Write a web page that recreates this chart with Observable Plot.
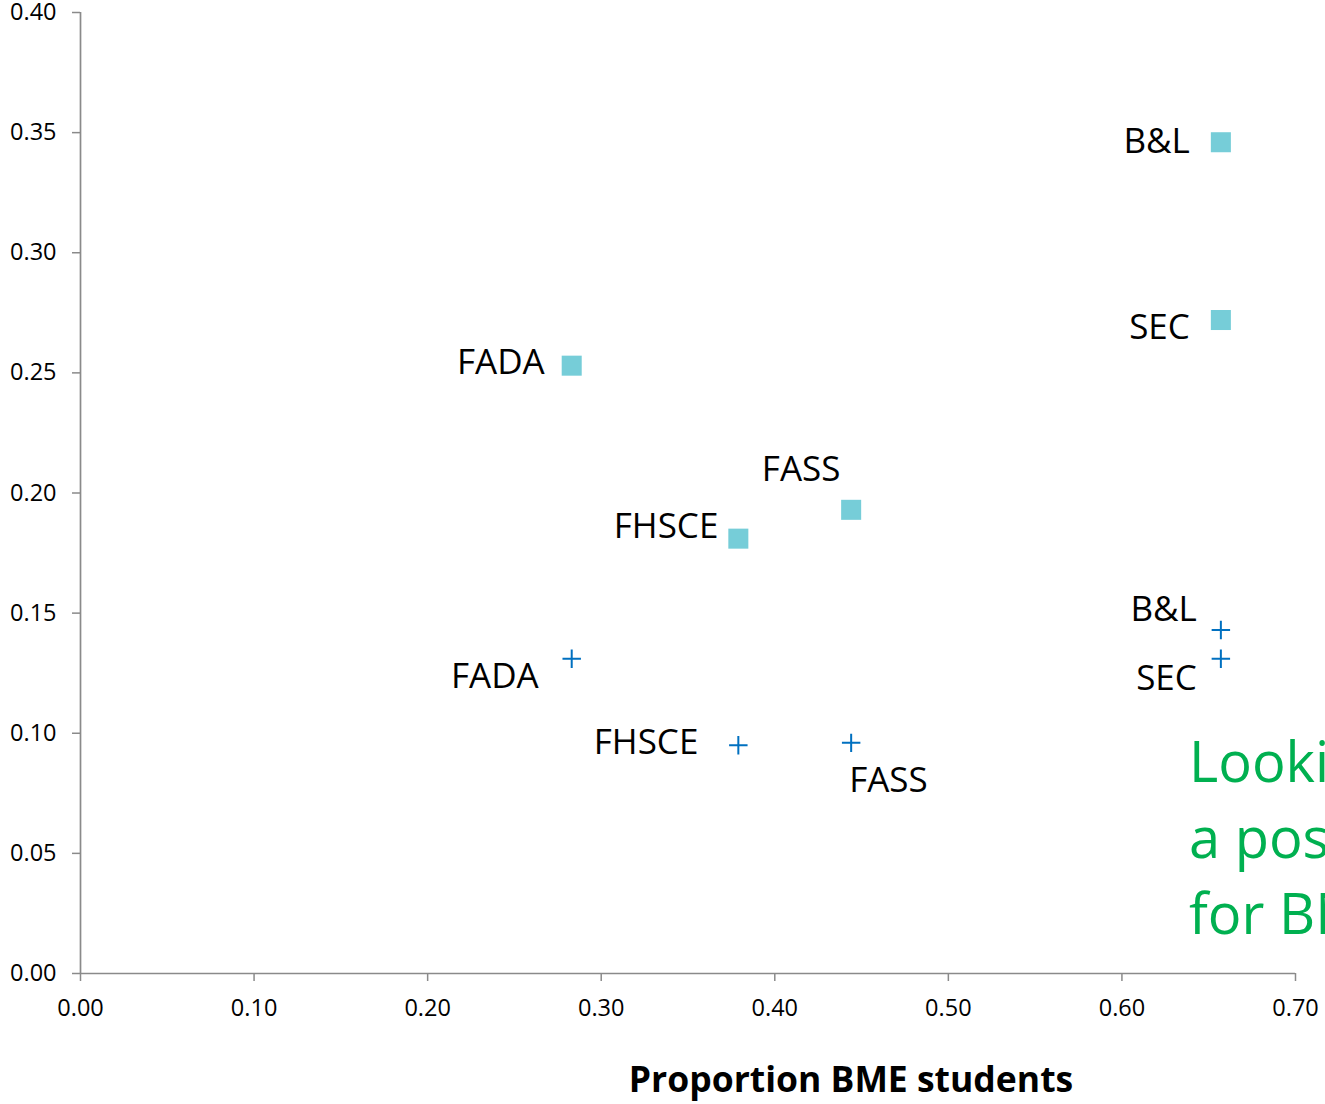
<!DOCTYPE html>
<html><head><meta charset="utf-8">
<script src="https://cdn.jsdelivr.net/npm/d3@7"></script>
<script src="https://cdn.jsdelivr.net/npm/@observablehq/plot@0.6"></script>
<style>
html,body{margin:0;padding:0;background:#fff;overflow:hidden;}
#wrap{position:relative;width:1325px;height:1104px;overflow:hidden;font-family:"Open Sans",sans-serif;}
#chart svg{display:block;overflow:visible;}
#xtitle{position:absolute;left:377px;width:948px;top:1048px;text-align:center;font-weight:bold;font-size:35.5px;line-height:60px;color:#000;}
#note{position:absolute;left:1189px;top:722px;font-size:56px;line-height:76px;color:#00B050;white-space:nowrap;}
</style></head>
<body><div id="wrap"><div id="chart"></div><div id="xtitle"></div><div id="note"></div></div>
<script>
// ---- data ----
const faculties = ["B&L", "SEC", "FADA", "FASS", "FHSCE"];
const bmeProportion = [0.657, 0.657, 0.283, 0.444, 0.379];
const squareSeries = [0.346, 0.272, 0.253, 0.193, 0.181];
const crossSeries = [0.143, 0.131, 0.131, 0.096, 0.095];
const xTicks = [0, 0.1, 0.2, 0.3, 0.4, 0.5, 0.6, 0.7];
const yTicks = [0, 0.05, 0.1, 0.15, 0.2, 0.25, 0.3, 0.35, 0.4];
const xTitle = "Proportion BME students";
const noteLines = ["Looking at", "a positive", "for BME"];

// ---- label placement (styling) ----
const squareLabelPlacement = {
  "B&L":   {anchor: "end", dx: -31, dy: 0},
  "SEC":   {anchor: "end", dx: -31, dy: 8},
  "FADA":  {anchor: "end", dx: -27, dy: -3},
  "FHSCE": {anchor: "end", dx: -20, dy: -12},
  "FASS":  {anchor: "middle", dx: -50, dy: -40}
};
const crossLabelPlacement = {
  "B&L":   {anchor: "end", dx: -24, dy: -20},
  "SEC":   {anchor: "end", dx: -24, dy: 20},
  "FADA":  {anchor: "end", dx: -33, dy: 18},
  "FHSCE": {anchor: "end", dx: -40, dy: -2},
  "FASS":  {anchor: "start", dx: -2, dy: 38}
};

const squares = faculties.map((f, i) => ({faculty: f, bme: bmeProportion[i], value: squareSeries[i]}));
const crosses = faculties.map((f, i) => ({faculty: f, bme: bmeProportion[i], value: crossSeries[i]}));

function labelMarks(rows, placement) {
  return rows.map(r => {
    const p = placement[r.faculty];
    return Plot.text([r], {x: "bme", y: "value", text: "faculty", textAnchor: p.anchor,
      dx: p.dx, dy: p.dy, fontSize: 35, fill: "#000"});
  });
}

const axisGray = "#8a8a8a";
const plot = Plot.plot({
  width: 1325, height: 1040,
  marginTop: 12, marginLeft: 80, marginRight: 30, marginBottom: 67,
  x: {domain: [0, 0.7]},
  y: {domain: [0, 0.4]},
  style: {fontFamily: "'Open Sans', sans-serif", background: "#fff", color: "#000", overflow: "visible"},
  marks: [
    Plot.axisY(yTicks, {tickSize: 8, tickPadding: 16, tickFormat: d3.format(".2f"), fontSize: 23.5,
      stroke: axisGray, strokeWidth: 1.5, fill: "#000", label: null}),
    Plot.axisX(xTicks, {tickSize: 8, tickPadding: 18, tickFormat: d3.format(".2f"), fontSize: 23.5,
      stroke: axisGray, strokeWidth: 1.5, fill: "#000", label: null}),
    Plot.ruleX([0], {stroke: axisGray, strokeWidth: 1.7}),
    Plot.ruleY([0], {stroke: axisGray, strokeWidth: 1.7}),
    Plot.dot(squares, {x: "bme", y: "value", symbol: "square", r: 11.3, fill: "#76CDD8", stroke: "none"}),
    Plot.dot(crosses, {x: "bme", y: "value", symbol: "plus", r: 6, stroke: "#0070C0", strokeWidth: 2}),
    ...labelMarks(squares, squareLabelPlacement),
    ...labelMarks(crosses, crossLabelPlacement)
  ]
});
document.getElementById("chart").appendChild(plot);
document.getElementById("xtitle").textContent = xTitle;
document.getElementById("note").innerHTML = noteLines.map(s => s.replace(/&/g, "&amp;")).join("<br>");
</script>
</body></html>
